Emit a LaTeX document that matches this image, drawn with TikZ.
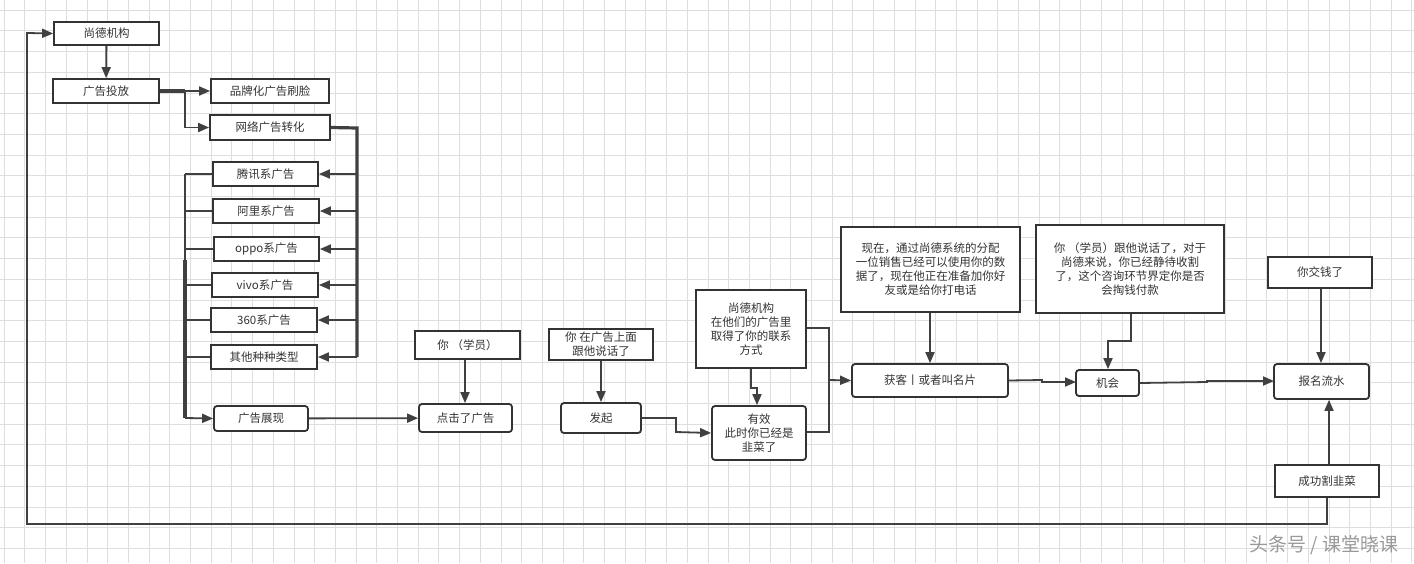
\documentclass[tikz,border=0pt]{standalone}
\usepackage{fontspec}
\setmainfont{Noto Sans CJK SC}
\usetikzlibrary{arrows.meta}
\begin{document}
\begin{tikzpicture}[x=1pt,y=-1pt,
  bx/.style={draw=black!80,line width=1.8pt,fill=white,font=\fontsize{11.5}{14}\selectfont,align=center,inner sep=0pt,text=black!80},
  rb/.style={bx,rounded corners=3pt},
  ar/.style={draw=black!75,line width=1.8pt,-{Triangle[length=11pt,width=9pt]}},
  ln/.style={draw=black!75,line width=1.8pt},
  tk/.style={draw=black!75,line width=3.2pt}]
\useasboundingbox (0,0) rectangle (1414,563);
\fill[white] (0,0) rectangle (1414,563);
\foreach \i in {0,...,69} \draw[black!13,line width=0.6pt] (\i*20.7+4,0) -- (\i*20.7+4,563);
\foreach \i in {0,...,27} \draw[black!13,line width=0.6pt] (0,\i*20.7+10) -- (1414,\i*20.7+10);
\newcommand\bxat[6]{\node[#1,minimum width=#4-#2,minimum height=#5-#3] (#6) at ({(#2+#4)/2},{(#3+#5)/2})}
\bxat{bx}{54}{22}{159}{45}{sd}{尚德机构};
\bxat{bx}{53}{79}{159}{103}{tf}{广告投放};
\bxat{bx}{211}{79}{329}{103}{pp}{品牌化广告刷脸};
\bxat{bx}{210}{115}{330}{140}{wl}{网络广告转化};
\bxat{bx}{213}{162}{318}{186}{tx}{腾讯系广告};
\bxat{bx}{213}{199}{319}{223}{al}{阿里系广告};
\bxat{bx}{214}{237}{319}{261}{op}{oppo系广告};
\bxat{bx}{212}{273}{318}{297}{vv}{vivo系广告};
\bxat{bx}{211}{308}{317}{332}{sl}{360系广告};
\bxat{bx}{211}{345}{317}{369}{qt}{其他种种类型};
\bxat{rb}{214}{406}{308}{431}{zx}{广告展现};
\bxat{bx}{415}{331}{520}{359}{xy}{你 （学员）};
\bxat{rb}{419}{404}{512}{432}{dj}{点击了广告};
\bxat{bx}{549}{329}{653}{360}{sh}{你 在广告上面\\跟他说话了};
\bxat{rb}{561}{403}{641}{433}{fq}{发起};
\bxat{bx}{696}{290}{806}{368}{sd2}{尚德机构\\在他们的广告里\\取得了你的联系\\方式};
\bxat{rb}{712}{406}{806}{460}{yx}{有效\\此时你已经是\\韭菜了};
\bxat{bx}{841}{227}{1020}{312}{xz}{现在，通过尚德系统的分配\\一位销售已经可以使用你的数\\据了，现在他正在准备加你好\\友或是给你打电话};
\bxat{rb}{852}{364}{1008}{397}{hk}{获客丨或者叫名片};
\bxat{bx}{1036}{225}{1224}{313}{nx}{你 （学员）跟他说话了，对于\\尚德来说，你已经静待收割\\了，这个咨询环节界定你是否\\会掏钱付款};
\bxat{rb}{1076}{370}{1139}{396}{jh}{机会};
\bxat{bx}{1268}{257}{1372}{288}{jq}{你交钱了};
\bxat{rb}{1274}{364}{1369}{399}{bm}{报名流水};
\bxat{bx}{1275}{465}{1379}{497}{cg}{成功割韭菜};
\node[text=black!40,font=\fontsize{19}{21}\selectfont,anchor=east] (wm) at (1402,545) {头条号 / 课堂晓课};
% connectors
\draw[ar] (sd) -- (tf);
\coordinate (b1) at (185,91);
\draw[tk] (tf.east) -- (b1);
\draw[ar] (b1) -- (pp.west);
\draw[ar] (b1) |- (wl.west);
\coordinate (r1) at (357,128);
\draw[tk] (wl.east) -- (r1) -- (357,357);
\foreach \n in {tx,al,op,vv,sl,qt} \draw[ar] (357,0 |- \n.east) -- (\n.east);
\foreach \n in {tx,al,op,vv,sl,qt} \draw[ln] (\n.west) -- (185,0 |- \n.west);
\draw[ln] (185,174) -- (185,260);
\draw[tk] (185,260) -- (185,418);
\draw[ar] (185,418) -- (zx.west);
\draw[ar] (zx) -- (dj);
\draw[ar] (xy.south -| 465,0) -- (465,0 |- dj.north);
\draw[ar] (sh.south -| 601,0) -- (601,0 |- fq.north);
\draw[ar] (fq.east) -- (676,418) -- (676,432) -- (yx.west);
\draw[ar] (sd2.south -| 751,0) -- (751,388) -- (757,388) -- (757,0 |- yx.north);
\coordinate (m1) at (829,380);
\draw[ln] (sd2.east |- 0,328) -- (829,328) -- (m1);
\draw[ln] (yx.east |- 0,432) -- (829,432) -- (m1);
\draw[ar] (m1) -- (hk.west);
\draw[ar] (xz.south -| 930,0) -- (930,0 |- hk.north);
\draw[ar] (hk.east) -- (1042,380) -- (1042,382) -- (1076,382);
\draw[ar] (nx.south -| 1131,0) -- (1131,341) -- (1108,341) -- (1108,0 |- jh.north);
\draw[ar] (jh.east) -- (1207,382) -- (1207,381) -- (1274,381);
\draw[ar] (jq.south -| 1321,0) -- (1321,0 |- bm.north);
\draw[ar] (cg.north -| 1329,0) -- (1329,0 |- bm.south);
\draw[ar] (cg.south -| 1327,0) -- (1327,524) -- (27,524) -- (27,33) -- (sd.west);
\end{tikzpicture}
\end{document}
